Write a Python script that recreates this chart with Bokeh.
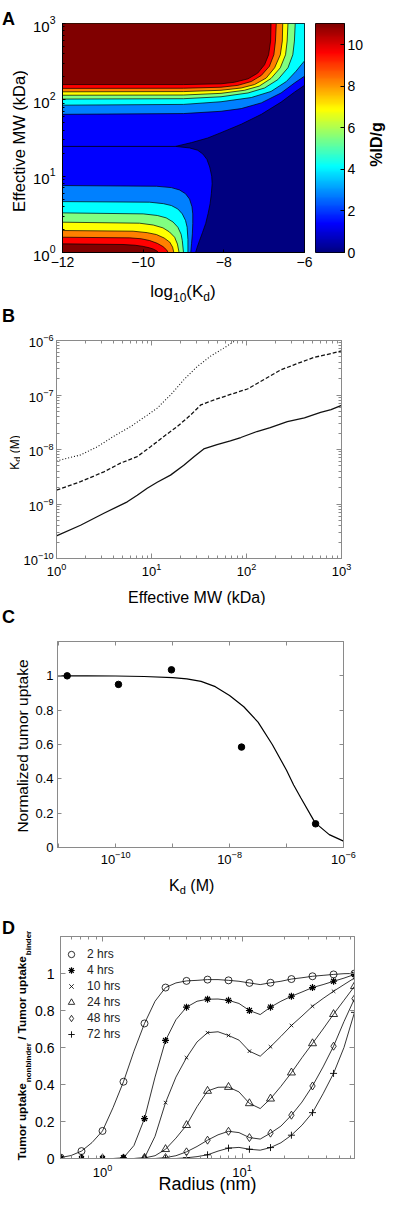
import numpy as np
from math import pi
from bokeh.plotting import figure
from bokeh.models import (Label, LinearAxis, LogAxis, FixedTicker, LogTicker, Range1d,
                          LinearColorMapper, Legend, LegendItem)
from bokeh.layouts import column, row
from bokeh.embed import file_html
from bokeh.resources import INLINE

FONT = "Liberation Sans"

# ------------------------------------------------------------------
# Panel A : filled contour of %ID/g  (x = log10 Kd, y = log10 MW[kDa])
# ------------------------------------------------------------------
A_BAND_COLORS = ["#000080", "#0000FF", "#0080FF", "#00FFFF", "#80FF80",
                 "#FFFF00", "#FF8000", "#FF0000", "#800000"]
A_CBAR_MAX = 11.03
A_CBAR_TICKS = [0, 2, 4, 6, 8, 10]
A_X_TICKS = [-12, -10, -8, -6]

a_top2_x = [-12, -9.0, -8.07, -7.57, -7.07, -6.58, -6.25, -6.0]
a_top2_y = [1.81, 1.82, 1.85, 1.885, 1.96, 2.09, 2.22, 2.31]
a_top3_x = [-12, -9.0, -8.07, -7.32, -6.83, -6.45, -6.21, -6.08, -6.0]
a_top3_y = [1.93, 1.94, 1.975, 2.03, 2.11, 2.24, 2.375, 2.46, 2.51]
a_top4_x = [-12, -9.0, -8.07, -7.40, -6.99, -6.66, -6.41, -6.29, -6.25, -6.23]
a_top4_y = [2.01, 2.015, 2.04, 2.09, 2.155, 2.265, 2.42, 2.59, 2.77, 3.0]
a_top5_x = [-12, -9.0, -8.07, -7.49, -7.12, -6.83, -6.60, -6.47, -6.43, -6.41]
a_top5_y = [2.06, 2.063, 2.085, 2.125, 2.18, 2.28, 2.42, 2.59, 2.77, 3.0]
a_top6_x = [-12, -9.0, -8.07, -7.57, -7.24, -6.95, -6.74, -6.60, -6.55, -6.54]
a_top6_y = [2.105, 2.108, 2.125, 2.155, 2.20, 2.285, 2.42, 2.59, 2.77, 3.0]
a_top7_x = [-12, -9.0, -8.07, -7.65, -7.32, -7.07, -6.87, -6.76, -6.72, -6.70]
a_top7_y = [2.15, 2.152, 2.165, 2.19, 2.24, 2.32, 2.44, 2.59, 2.77, 3.0]
a_top8_x = [-12, -9.0, -8.07, -7.74, -7.40, -7.16, -6.99, -6.89, -6.84, -6.83]
a_top8_y = [2.20, 2.20, 2.21, 2.23, 2.275, 2.35, 2.46, 2.59, 2.77, 3.0]

a_bot2_x = [-12, -9.67, -9.3, -9.10, -8.95, -8.85, -8.79, -8.77, -8.77, -8.78, -8.80, -8.82]
a_bot2_y = [0.877, 0.868, 0.85, 0.82, 0.77, 0.70, 0.60, 0.506, 0.38, 0.244, 0.12, 0.0]
a_bot3_x = [-12, -9.84, -9.5, -9.30, -9.14, -9.03, -8.95, -8.91, -8.89, -8.89]
a_bot3_y = [0.667, 0.659, 0.64, 0.615, 0.57, 0.506, 0.42, 0.331, 0.17, 0.0]
a_bot4_x = [-12, -10.0, -9.65, -9.43, -9.26, -9.14, -9.06, -9.03, -9.0]
a_bot4_y = [0.519, 0.506, 0.485, 0.454, 0.40, 0.331, 0.24, 0.157, 0.0]
a_bot5_x = [-12, -10.09, -9.75, -9.51, -9.35, -9.22, -9.15, -9.11]
a_bot5_y = [0.397, 0.384, 0.36, 0.323, 0.27, 0.20, 0.11, 0.0]
a_bot6_x = [-12, -10.25, -9.9, -9.67, -9.48, -9.34, -9.27, -9.24]
a_bot6_y = [0.288, 0.279, 0.26, 0.235, 0.19, 0.135, 0.07, 0.0]
a_bot7_x = [-12, -10.33, -10.05, -9.84, -9.65, -9.51, -9.42, -9.38]
a_bot7_y = [0.20, 0.192, 0.18, 0.157, 0.12, 0.078, 0.035, 0.0]
a_bot8_x = [-12, -10.5, -10.2, -10.0, -9.85, -9.75, -9.66, -9.62]
a_bot8_y = [0.113, 0.105, 0.095, 0.08, 0.062, 0.045, 0.02, 0.0]

a_low_up_x = [-9.2, -8.8, -8.4, -8.07, -7.57, -7.07, -6.58, -6.25, -6.0]
a_low_up_y = [1.39, 1.44, 1.50, 1.57, 1.68, 1.81, 1.97, 2.10, 2.19]
a_low_dn_x = [-9.2, -8.85, -8.65, -8.52, -8.42, -8.35, -8.30, -8.29, -8.31, -8.34,
              -8.39, -8.45, -8.53, -8.60, -8.66, -8.70]
a_low_dn_y = [1.39, 1.37, 1.34, 1.29, 1.22, 1.12, 1.0, 0.90, 0.77, 0.64,
              0.51, 0.38, 0.26, 0.16, 0.07, 0.0]
a_ridge_x = [-12, -9.2]
a_ridge_y = [1.39, 1.39]

# ------------------------------------------------------------------
# Panel B : Kd vs effective MW (log10 values)
# ------------------------------------------------------------------
b_solid_mw = [0, 0.253, 0.499, 0.745, 0.85, 0.955, 1.06, 1.20, 1.34, 1.45, 1.55, 1.69,
              1.83, 1.94, 2.11, 2.25, 2.43, 2.61, 2.78, 2.89, 3.0]
b_solid_kd = [-9.585, -9.39, -9.17, -8.96, -8.84, -8.71, -8.60, -8.47, -8.29, -8.13, -7.99,
              -7.91, -7.84, -7.78, -7.67, -7.60, -7.49, -7.42, -7.32, -7.27, -7.19]
b_dash_mw = [0, 0.253, 0.499, 0.674, 0.85, 0.99, 1.13, 1.27, 1.41, 1.52, 1.66, 1.83,
             2.01, 2.18, 2.36, 2.54, 2.71, 2.89, 3.0]
b_dash_kd = [-8.745, -8.59, -8.41, -8.25, -8.13, -7.95, -7.76, -7.58, -7.37, -7.18, -7.09,
             -6.99, -6.89, -6.72, -6.54, -6.42, -6.31, -6.24, -6.19]
b_dot_mw = [0, 0.253, 0.43, 0.60, 0.78, 0.955, 1.06, 1.20, 1.34, 1.48, 1.62, 1.76, 1.886]
b_dot_kd = [-8.21, -8.10, -7.95, -7.76, -7.58, -7.37, -7.24, -7.0, -6.72, -6.48, -6.29,
            -6.14, -6.0]

# ------------------------------------------------------------------
# Panel C : normalized tumor uptake vs Kd
# ------------------------------------------------------------------
c_xmin_log = -11.02
c_curve_kd = [-11.02, -10.5, -10.0, -9.5, -9.0, -8.75, -8.5, -8.25, -8.0, -7.75, -7.5,
              -7.25, -7.0, -6.875, -6.75, -6.5, -6.25, -6.0]
c_curve_up = [1.0, 1.0, 0.999, 0.996, 0.99, 0.982, 0.968, 0.937, 0.885, 0.82, 0.73,
              0.60, 0.45, 0.364, 0.29, 0.145, 0.075, 0.037]
c_pts_kd = [-10.85, -9.95, -9.02, -7.79, -6.49]
c_pts_up = [1.0, 0.95, 1.035, 0.585, 0.138]
Y_TICKS = [0, 0.2, 0.4, 0.6, 0.8, 1.0]
Y_TICK_TEXT = {0: "0", 0.2: "0.2", 0.4: "0.4", 0.6: "0.6", 0.8: "0.8", 1.0: "1"}

# ------------------------------------------------------------------
# Panel D : uptake ratio vs radius
# ------------------------------------------------------------------
d_labels = ["2 hrs", "4 hrs", "10 hrs", "24 hrs", "48 hrs", "72 hrs"]
d_r_mark = [0.5, 0.707, 1.0, 1.414, 2.0, 2.83, 4.0, 5.66, 8.0, 11.3, 16.0, 22.6, 32.0, 45.3, 64.0]
d_r_half = [0.595, 0.841, 1.19, 1.68, 2.38, 3.36, 4.76, 6.73, 9.51, 13.5, 19.0, 26.9, 38.1, 53.8]
d_2h = [0.005, 0.04, 0.149, 0.415, 0.73, 0.924, 0.96, 0.967, 0.963, 0.949, 0.95, 0.97, 0.985, 0.995, 1.0]
d_2h_half = [0.016, 0.086, 0.275, 0.58, 0.85, 0.949, 0.963, 0.967, 0.958, 0.94, 0.958, 0.977, 0.99, 0.999]
d_4h = [0.0, 0.0, 0.0, 0.004, 0.216, 0.638, 0.818, 0.861, 0.855, 0.80, 0.818, 0.877, 0.924, 0.958, 0.995]
d_4h_half = [0.0, 0.0, 0.0, 0.07, 0.44, 0.75, 0.85, 0.862, 0.838, 0.778, 0.85, 0.90, 0.94, 0.975]
d_10h = [0.0, 0.0, 0.0, 0.0, 0.003, 0.302, 0.545, 0.68, 0.665, 0.58, 0.604, 0.719, 0.823, 0.904, 0.976]
d_10h_half = [0.0, 0.0, 0.0, 0.0, 0.12, 0.44, 0.63, 0.685, 0.64, 0.553, 0.66, 0.77, 0.865, 0.94]
d_24h = [0.0, 0.0, 0.0, 0.0, 0.003, 0.05, 0.18, 0.365, 0.386, 0.298, 0.323, 0.464, 0.622, 0.78, 0.931]
d_24h_half = [0.0, 0.0, 0.0, 0.0, 0.015, 0.11, 0.28, 0.385, 0.36, 0.27, 0.39, 0.545, 0.70, 0.855]
d_48h = [0.0, 0.0, 0.0, 0.0, 0.0, 0.005, 0.036, 0.099, 0.147, 0.113, 0.137, 0.234, 0.392, 0.607, 0.864]
d_48h_half = [0.0, 0.0, 0.0, 0.0, 0.0, 0.015, 0.065, 0.128, 0.14, 0.105, 0.175, 0.305, 0.495, 0.74]
d_72h = [0.0, 0.0, 0.0, 0.0, 0.0, 0.0, 0.004, 0.02, 0.056, 0.05, 0.059, 0.126, 0.248, 0.46, 0.79]
d_72h_half = [0.0, 0.0, 0.0, 0.0, 0.0, 0.0, 0.01, 0.04, 0.06, 0.045, 0.085, 0.18, 0.35, 0.60]

# ------------------------------------------------------------------
# helpers
# ------------------------------------------------------------------
AR = {' ': 278, '(': 333, ')': 333, '/': 278, '%': 889, '.': 278, '-': 333,
      'A': 667, 'B': 667, 'C': 722, 'D': 722, 'E': 667, 'I': 278, 'K': 667, 'M': 833,
      'N': 722, 'R': 722, 'T': 611, 'W': 944, 'a': 556, 'b': 556, 'c': 500, 'd': 556,
      'e': 556, 'f': 278, 'g': 556, 'h': 556, 'i': 222, 'k': 500, 'l': 222, 'm': 833,
      'n': 556, 'o': 556, 'p': 556, 'r': 333, 's': 500, 't': 278, 'u': 556, 'v': 500,
      'z': 500}
AB = {' ': 278, '(': 333, ')': 333, '/': 278, '%': 889, 'I': 278, 'D': 722, 'T': 611,
      'K': 722, 'M': 833, 'a': 556, 'b': 611, 'd': 611, 'e': 556, 'g': 611, 'i': 278,
      'k': 556, 'm': 889, 'n': 611, 'o': 611, 'p': 611, 'r': 389, 't': 333, 'u': 611,
      's': 556}


def tw(s, size, bold=False):
    t = AB if bold else AR
    return sum(t.get(c, 556) for c in s) / 1000.0 * size


def strip(w, h):
    """a blank figure used as a text area; its data units are pixels"""
    s = figure(width=w, height=h, x_range=Range1d(0, w), y_range=Range1d(0, h),
               min_border=0, x_axis_location=None, y_axis_location=None, title=None,
               toolbar_location=None, output_backend="svg")
    s.outline_line_color = None
    s.xgrid.visible = False
    s.ygrid.visible = False
    s.border_fill_color = "white"
    s.background_fill_color = "white"
    return s


def boxed(s):
    # own layout box, so that the text area is not frame-aligned with its neighbours
    return column(s)


def put(s, x, y, text, size, bold=False, angle=0.0, align="left", baseline="alphabetic",
        color="black"):
    s.add_layout(Label(x=x, y=s.height - y, text=text, angle=angle, text_font=FONT,
                       text_font_size=f"{size}px",
                       text_font_style="bold" if bold else "normal",
                       text_align=align, text_baseline=baseline, text_color=color))


def comp_h(s, pieces, cx, by):
    total = sum(tw(t, sz, b) for t, sz, b, d in pieces)
    x = cx - total / 2
    for t, sz, b, d in pieces:
        lead = len(t) - len(t.lstrip(' '))
        put(s, x + tw(' ' * lead, sz, b), by + d, t.strip(' '), sz, b)
        x += tw(t, sz, b)


def comp_v(s, pieces, bx, cy):
    total = sum(tw(t, sz, b) for t, sz, b, d in pieces)
    y = cy + total / 2
    for t, sz, b, d in pieces:
        lead = len(t) - len(t.lstrip(' '))
        put(s, bx + d, y - tw(' ' * lead, sz, b), t.strip(' '), sz, b, angle=pi / 2)
        y -= tw(t, sz, b)


def style_axis(ax, color, fs, tin=4, minor_in=2, standoff=4, minor=True):
    ax.axis_line_color = color
    ax.major_tick_line_color = color
    ax.minor_tick_line_color = color if minor else None
    ax.major_tick_in = tin
    ax.major_tick_out = 0
    ax.minor_tick_in = minor_in
    ax.minor_tick_out = 0
    ax.major_label_text_font = FONT
    ax.major_label_text_font_size = fs
    ax.major_label_text_color = "black"
    ax.major_label_standoff = standoff


def mirror(p, cls, ticker, side, color, tin=4, minor_in=2, minor=True):
    ax = cls(ticker=ticker)
    style_axis(ax, color, "0px", tin, minor_in, 0, minor)
    ax.major_label_text_color = None
    p.add_layout(ax, side)


def base_fig(**kw):
    p = figure(output_backend="svg", toolbar_location=None, title=None, **kw)
    p.xgrid.visible = False
    p.ygrid.visible = False
    p.border_fill_color = "white"
    return p


GRAY = "#8a8a8a"

# ------------------------------------------------------------------
# Panel A  (screen 8 .. 280)
# ------------------------------------------------------------------
A_TOP, A_W, A_H, A_BOT = 23, 242, 229, 20
A_ROWH = A_TOP + A_H + A_BOT
A_LEFTW = 28
pa = base_fig(frame_width=A_W, frame_height=A_H, x_range=Range1d(-12, -6),
              y_range=Range1d(1, 1000), y_axis_type="log",
              min_border_left=34, min_border_right=10, min_border_top=A_TOP,
              min_border_bottom=A_BOT)
pa.background_fill_color = A_BAND_COLORS[1]
pa.outline_line_color = "black"
pa.outline_line_width = 1

CL = dict(line_color="black", line_width=0.7)
nx = a_low_up_x + [-6.0] + a_low_dn_x[::-1]
ny = a_low_up_y + [0.0] + a_low_dn_y[::-1]
pa.patch(nx, [10 ** v for v in ny], fill_color=A_BAND_COLORS[0], **CL)

tops = [(a_top2_x, a_top2_y), (a_top3_x, a_top3_y), (a_top4_x, a_top4_y),
        (a_top5_x, a_top5_y), (a_top6_x, a_top6_y), (a_top7_x, a_top7_y),
        (a_top8_x, a_top8_y)]
for k, (xs, ys) in enumerate(tops, start=2):
    px, py = list(xs), list(ys)
    if px[-1] == -6.0:
        px.append(-6.0); py.append(3.0)
    px.append(-12.0); py.append(3.0)
    pa.patch(px, [10 ** v for v in py], fill_color=A_BAND_COLORS[k], **CL)

bots = [(a_bot2_x, a_bot2_y), (a_bot3_x, a_bot3_y), (a_bot4_x, a_bot4_y),
        (a_bot5_x, a_bot5_y), (a_bot6_x, a_bot6_y), (a_bot7_x, a_bot7_y),
        (a_bot8_x, a_bot8_y)]
for k, (xs, ys) in enumerate(bots, start=2):
    pa.patch(list(xs) + [-12.0], [10 ** v for v in list(ys) + [0.0]],
             fill_color=A_BAND_COLORS[k], **CL)

pa.line(a_ridge_x, [10 ** v for v in a_ridge_y], line_color="black", line_width=0.8)

pa.xaxis.ticker = FixedTicker(ticks=A_X_TICKS)
style_axis(pa.xaxis[0], "black", "14px", 3, 0, 4, minor=False)
style_axis(pa.yaxis[0], "black", "15px", 3, 2, 7)

CB_L, CB_R = 1, 20
pcb = base_fig(frame_width=29, frame_height=A_H, x_range=Range1d(0, 1),
               y_range=Range1d(0, A_CBAR_MAX), x_axis_location=None,
               y_axis_location="right", min_border_left=CB_L, min_border_right=CB_R,
               min_border_top=A_TOP, min_border_bottom=A_BOT)
JET = []
for i in range(256):
    t = i / 255
    r = min(max(1.5 - abs(4 * t - 3), 0), 1)
    gg = min(max(1.5 - abs(4 * t - 2), 0), 1)
    b = min(max(1.5 - abs(4 * t - 1), 0), 1)
    JET.append("#%02x%02x%02x" % (round(r * 255), round(gg * 255), round(b * 255)))
mapper = LinearColorMapper(palette=JET, low=0, high=A_CBAR_MAX)
grad = np.linspace(0, A_CBAR_MAX, 256).reshape(256, 1)
pcb.image(image=[grad], x=0, y=0, dw=1, dh=A_CBAR_MAX, color_mapper=mapper)
pcb.outline_line_color = "black"
pcb.yaxis.ticker = FixedTicker(ticks=A_CBAR_TICKS)
style_axis(pcb.yaxis[0], "black", "14px", 4, 0, 3, minor=False)

a_left = strip(A_LEFTW, A_ROWH)
put(a_left, 1.5, 18.5, "A", 18, bold=True)
put(a_left, 18.5, 140.7, "Effective MW (kDa)", 16.5, angle=pi / 2, align="center",
    baseline="middle")
a_right_w = 384 - A_LEFTW - (34 + A_W + 10) - (CB_L + 29 + CB_R)
a_right = strip(a_right_w, A_ROWH)
put(a_right, a_right_w / 2, 144, "%ID/g", 16, bold=True, angle=pi / 2, align="center",
    baseline="middle")
block_a = row(boxed(a_left), pa, pcb, boxed(a_right))

# ------------------------------------------------------------------
# Panel B block (screen 280 .. 589): A's x label strip sits above the B plot
# ------------------------------------------------------------------
B_LEFTW, S1_H = 20, 31
B_TOP, B_W, B_H, B_BOT = 37, 285, 218, 23
pb = base_fig(frame_width=B_W, frame_height=B_H, x_axis_type="log", y_axis_type="log",
              x_range=Range1d(1, 1000), y_range=Range1d(1e-10, 1e-6),
              min_border_left=31, min_border_right=48, min_border_top=B_TOP,
              min_border_bottom=B_BOT)
pb.outline_line_color = GRAY
bxt = LogTicker(num_minor_ticks=10)
byt = LogTicker(num_minor_ticks=10)
pb.xaxis.ticker = bxt
pb.yaxis.ticker = byt
style_axis(pb.xaxis[0], GRAY, "13px", 5, 3, 4)
style_axis(pb.yaxis[0], GRAY, "13px", 5, 3, 3)
mirror(pb, LogAxis, bxt, "above", GRAY, 5, 3)
mirror(pb, LogAxis, byt, "right", GRAY, 5, 3)
pb.line([10 ** v for v in b_solid_mw], [10 ** v for v in b_solid_kd],
        line_color="#111111", line_width=1.3)
pb.line([10 ** v for v in b_dash_mw], [10 ** v for v in b_dash_kd],
        line_color="#111111", line_width=1.3, line_dash="4 2")
pb.line([10 ** v for v in b_dot_mw], [10 ** v for v in b_dot_kd],
        line_color="#111111", line_width=1.1, line_dash="1 2")

s1 = strip(384 - B_LEFTW, S1_H)
comp_h(s1, [("log", 17, False, 0), ("10", 12, False, 6), ("(K", 17, False, 0),
            ("d", 12, False, 6), (")", 17, False, 0)], 182.5 - B_LEFTW, 18.5)
b_left = strip(B_LEFTW, S1_H + B_TOP + B_H + B_BOT)
put(b_left, 1.5, 43, "B", 18, bold=True)
comp_v(b_left, [("K", 12, False, 0), ("d", 9, False, 3.5), (" (M)", 12, False, 0)],
       14, 180)
block_b = row(boxed(b_left), column(boxed(s1), pb))

# ------------------------------------------------------------------
# Panel C block (screen 589 .. 877)
# ------------------------------------------------------------------
C_LEFTW, S2_H = 32, 24
C_TOP, C_W, C_H, C_BOT = 36, 286, 206, 22
cxr = (10 ** c_xmin_log, 1e-6)
pc = base_fig(frame_width=C_W, frame_height=C_H, x_axis_type="log",
              x_range=Range1d(*cxr), y_range=Range1d(0, 1.2),
              min_border_left=24, min_border_right=42, min_border_top=C_TOP,
              min_border_bottom=C_BOT)
pc.outline_line_color = GRAY
cxt = FixedTicker(ticks=[1e-10, 1e-8, 1e-6], minor_ticks=[1e-11, 1e-9, 1e-7])
cyt = FixedTicker(ticks=Y_TICKS)
pc.xaxis.ticker = cxt
pc.yaxis.ticker = cyt
pc.yaxis.major_label_overrides = Y_TICK_TEXT
style_axis(pc.xaxis[0], GRAY, "13px", 4, 4, 3)
style_axis(pc.yaxis[0], GRAY, "13px", 4, 0, 4, minor=False)
mirror(pc, LogAxis, cxt, "above", GRAY, 4, 4)
mirror(pc, LinearAxis, cyt, "right", GRAY, 4, 0, minor=False)
pc.line([10 ** v for v in c_curve_kd], c_curve_up, line_color="black", line_width=1.2)
pc.scatter([10 ** v for v in c_pts_kd], c_pts_up, marker="circle", size=6.5,
           fill_color="black", line_color="black")

s2 = strip(384 - C_LEFTW, S2_H)
put(s2, 196.3 - C_LEFTW, 15.5, "Effective MW (kDa)", 16, align="center")
c_left = strip(C_LEFTW, S2_H + C_TOP + C_H + C_BOT)
put(c_left, 1.5, 35, "C", 18, bold=True)
put(c_left, 22, 164.5, "Normalized tumor uptake", 15.5, angle=pi / 2, align="center",
    baseline="middle")
block_c = row(boxed(c_left), column(boxed(s2), pc))

# ------------------------------------------------------------------
# Panel D block (screen 877 .. 1202)
# ------------------------------------------------------------------
D_LEFTW, S3_H = 32, 25
D_TOP, D_W, D_H, D_BOT = 42, 294, 222, 36
pdd = base_fig(frame_width=D_W, frame_height=D_H, x_axis_type="log",
               x_range=Range1d(0.5, 64), y_range=Range1d(0, 1.2),
               min_border_left=26, min_border_right=32, min_border_top=D_TOP,
               min_border_bottom=D_BOT)
pdd.outline_line_color = GRAY
dxt = LogTicker(num_minor_ticks=10)
dyt = FixedTicker(ticks=Y_TICKS)
pdd.xaxis.ticker = dxt
pdd.yaxis.ticker = dyt
pdd.yaxis.major_label_overrides = Y_TICK_TEXT
style_axis(pdd.xaxis[0], GRAY, "13px", 5, 3, 5)
style_axis(pdd.yaxis[0], GRAY, "14px", 5, 0, 6, minor=False)
pdd.xaxis.axis_label = "Radius (nm)"
pdd.xaxis.axis_label_text_font = FONT
pdd.xaxis.axis_label_text_font_size = "18px"
pdd.xaxis.axis_label_text_font_style = "normal"
pdd.xaxis.axis_label_text_color = "black"
pdd.xaxis.axis_label_standoff = -6
mirror(pdd, LogAxis, dxt, "above", GRAY, 5, 3)
mirror(pdd, LinearAxis, dyt, "right", GRAY, 5, 0, minor=False)

series = [(d_2h, d_2h_half), (d_4h, d_4h_half), (d_10h, d_10h_half),
          (d_24h, d_24h_half), (d_48h, d_48h_half), (d_72h, d_72h_half)]
D_MARKERS = ["circle", "asterisk", "x", "triangle", "diamond", "cross"]
D_SIZES = [7, 7, 5, 8, 8, 7]
D_LW = [0.8, 1.2, 0.8, 0.8, 0.8, 0.9]
items = []
for (vm, vh), lab, mk, sz, lw in zip(series, d_labels, D_MARKERS, D_SIZES, D_LW):
    xs, ys = [], []
    for i in range(len(d_r_half)):
        xs += [d_r_mark[i], d_r_half[i]]
        ys += [vm[i], vh[i]]
    xs.append(d_r_mark[-1]); ys.append(vm[-1])
    pdd.line(xs, ys, line_color="black", line_width=0.8)
    r = pdd.scatter(d_r_mark, vm, marker=mk, size=sz, line_color="black",
                    fill_color=None, line_width=lw)
    items.append(LegendItem(label=lab, renderers=[r]))
leg = Legend(items=items, location=(3, 116), border_line_color=None,
             background_fill_alpha=0, label_text_font=FONT, label_text_font_size="12px",
             label_text_color="#222222", glyph_width=16, glyph_height=16, label_height=16,
             label_standoff=8, spacing=0, padding=0, margin=0)
pdd.add_layout(leg)

s3 = strip(384 - D_LEFTW, S3_H)
comp_h(s3, [("K", 16, False, 0), ("d", 11, False, 5), (" (M)", 16, False, 0)],
       191.2 - D_LEFTW, 15.8)
d_left = strip(D_LEFTW, S3_H + D_TOP + D_H + D_BOT)
put(d_left, 1.5, 58, "D", 18, bold=True)
comp_v(d_left, [("Tumor uptake", 11.8, True, 0), ("nonbinder", 8, True, 6),
                (" / Tumor uptake", 11.8, True, 0), ("binder", 8, True, 6)], 21.5, 176)
block_d = row(boxed(d_left), column(boxed(s3), pdd))

layout = column(block_a, block_b, block_c, block_d)
open("out.html", "w").write(file_html(layout, INLINE))
